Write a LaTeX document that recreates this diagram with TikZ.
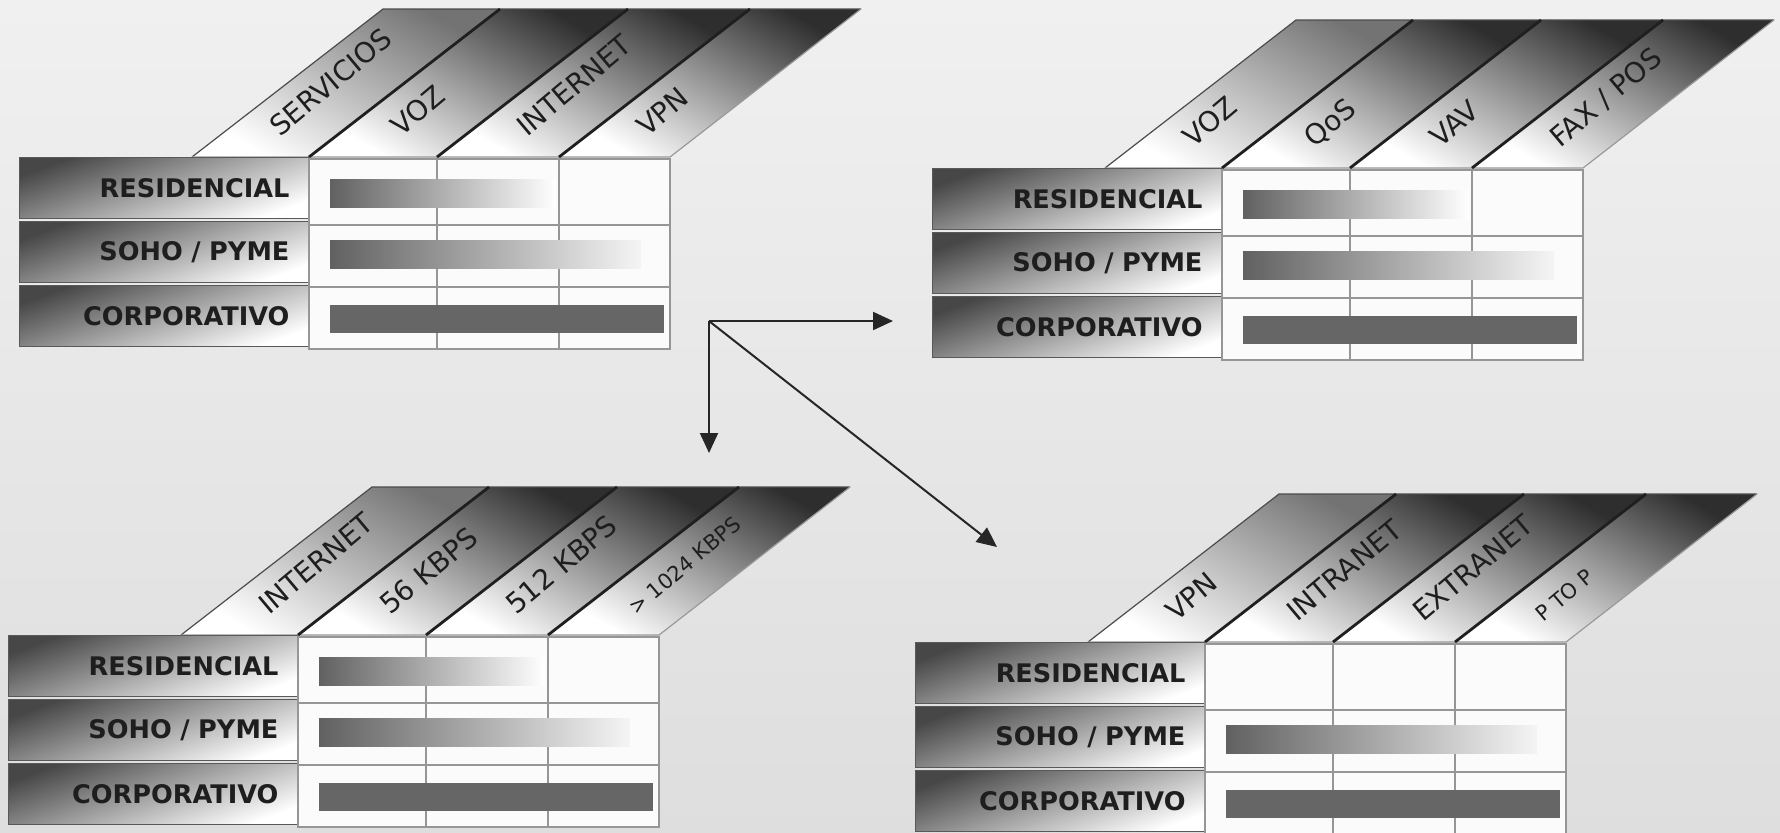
\documentclass[tikz,border=0pt]{standalone}
\usepackage{fontspec}
\setmainfont{DejaVu Sans}
\usetikzlibrary{arrows.meta}
\definecolor{bgtop}{RGB}{240,240,240}
\definecolor{bgbot}{RGB}{222,222,222}
\definecolor{txt}{RGB}{30,30,30}
\definecolor{gridl}{RGB}{150,150,150}
\tikzset{
  lblbox/.style={draw=black!65, line width=0.5pt, top color=black!72, middle color=gray!30, bottom color=white, shading angle=20,
    anchor=north west, minimum width=145pt, minimum height=30.5pt, text width=125pt, align=right,
    inner xsep=10pt, inner ysep=0pt, font=\bfseries\fontsize{12.8}{13}\selectfont, text=txt},
  hdrA/.style={top color=black!55, middle color=gray!30, bottom color=white, shading angle=-30},
  hdrB/.style={top color=black!82, middle color=gray!45, bottom color=white, shading angle=-30},
  hdrline/.style={draw=black!70, line width=0.6pt},
  hdrsep/.style={draw=black!88, line width=1.4pt},
  hdrtext/.style={font=\fontsize{14}{15}\selectfont, text=txt, rotate=40, anchor=base west, inner sep=0pt},
  hdrsmall/.style={hdrtext, font=\fontsize{10.5}{11}\selectfont},
  cellfill/.style={fill=white!97!gray},
  gridline/.style={draw=gridl, line width=0.6pt},
  barres/.style={left color=black!62, middle color=black!42, right color=white},
  barsoho/.style={left color=black!62, middle color=black!38, right color=black!4},
  barcorp/.style={fill=black!60},
  arr/.style={draw=black!85, line width=1pt, -{Triangle[length=10pt,width=9pt]}},
}
\newcommand\resbarcode{\path[barres] (311,22) rectangle (537,50);}
% #1 x, #2 y, #3 name, #4-#7 header texts (with style), #8 res bar code
\newcommand\servtable[8]{%
\begin{scope}[shift={(#1,#2)}]
  \path[hdrA] (173,0) -- (290,0) -- (481,-148) -- (364,-148) -- cycle;
  \path[hdrB] (290,0) -- (418,0) -- (609,-148) -- (481,-148) -- cycle;
  \path[hdrB] (418,0) -- (540,0) -- (731,-148) -- (609,-148) -- cycle;
  \path[hdrB] (540,0) -- (651,0) -- (842,-148) -- (731,-148) -- cycle;
  \draw[hdrline] (173,0) -- (364,-148) -- (842,-148);
  \draw[hdrline, black!40] (842,-148) -- (651,0) -- (173,0);
  \draw[hdrsep] (290,0) -- (481,-148) (418,0) -- (609,-148) (540,0) -- (731,-148);
  #4
  #5
  #6
  #7
  \node[lblbox] (#3-res) at (0,0) {RESIDENCIAL};
  \node[lblbox] (#3-soho) at (0,64) {SOHO / PYME};
  \node[lblbox] (#3-corp) at (0,128) {CORPORATIVO};
  \path[cellfill] (290,2) rectangle (651,192);
  \draw[gridline] (290,2) rectangle (651,192)
     (418,2) -- (418,192) (540,2) -- (540,192)
     (290,68) -- (651,68) (290,130) -- (651,130);
  #8
  \path[barsoho] (311,83) rectangle (622,111);
  \path[barcorp] (311,148) rectangle (645,176);
\end{scope}}
\begin{document}
\begin{tikzpicture}[x=0.5pt,y=-0.5pt]
\useasboundingbox (0,0) rectangle (1780,832);
\shade[top color=bgtop, bottom color=bgbot] (0,0) rectangle (1780,832);

\servtable{19}{157}{tl}
  {\node[hdrtext] (tl-h1) at (261,-19) {SERVICIOS};}
  {\node[hdrtext] (tl-h2) at (382,-19) {VOZ};}
  {\node[hdrtext] (tl-h3) at (508,-19) {INTERNET};}
  {\node[hdrtext] (tl-h4) at (628,-19) {VPN};}
  {\resbarcode}

\servtable{932}{168}{tr}
  {\node[hdrtext] (tr-h1) at (261,-19) {VOZ};}
  {\node[hdrtext] (tr-h2) at (382,-19) {QoS};}
  {\node[hdrtext] (tr-h3) at (508,-19) {VAV};}
  {\node[hdrtext] (tr-h4) at (628,-19) {FAX / POS};}
  {\resbarcode}

\servtable{8}{635}{bl}
  {\node[hdrtext] (bl-h1) at (261,-19) {INTERNET};}
  {\node[hdrtext] (bl-h2) at (382,-19) {56 KBPS};}
  {\node[hdrtext] (bl-h3) at (508,-19) {512 KBPS};}
  {\node[hdrsmall] (bl-h4) at (628,-19) {> 1024 KBPS};}
  {\resbarcode}

\servtable{915}{642}{br}
  {\node[hdrtext] (br-h1) at (261,-19) {VPN};}
  {\node[hdrtext] (br-h2) at (382,-19) {INTRANET};}
  {\node[hdrtext] (br-h3) at (508,-19) {EXTRANET};}
  {\node[hdrsmall] (br-h4) at (628,-19) {P TO P};}
  {}

\coordinate (hub) at (709,321);
\coordinate (toR) at (893,321);
\coordinate (toD) at (709,453);
\coordinate (toDR) at (997,547);
\draw[arr] (hub) -- (toR);
\draw[arr] (hub) -- (toD);
\draw[arr] (hub) -- (toDR);
\end{tikzpicture}
\end{document}
